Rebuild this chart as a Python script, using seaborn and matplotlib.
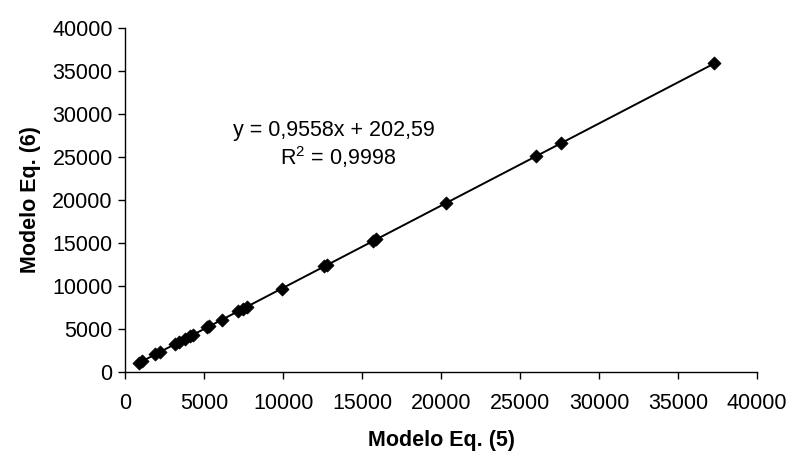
import matplotlib
matplotlib.use("Agg")
import matplotlib.pyplot as plt
import seaborn as sns
import pandas as pd

# Data
modelo_eq5 = [900, 1050, 1900, 2200, 3150, 3400, 3800, 4100, 4300, 5200, 5300, 6100,
              7150, 7450, 7700, 9900, 12600, 12800, 15700, 15900, 20300, 26000, 27600, 37300]
modelo_eq6 = [1063, 1206, 2019, 2306, 3214, 3453, 3835, 4122, 4313, 5173, 5269, 6033,
              7037, 7324, 7562, 9665, 12246, 12437, 15209, 15400, 19606, 25054, 26583, 35854]
x_ticks = [0, 5000, 10000, 15000, 20000, 25000, 30000, 35000, 40000]
y_ticks = [0, 5000, 10000, 15000, 20000, 25000, 30000, 35000, 40000]
eq_text = "y = 0,9558x + 202,59"
r2_text = "R$^2$ = 0,9998"

df = pd.DataFrame({"x": modelo_eq5, "y": modelo_eq6})

sns.set_theme(style="white")
plt.rcParams["font.family"] = ["Liberation Sans", "DejaVu Sans"]
plt.rcParams["text.color"] = "black"
plt.rcParams["axes.labelcolor"] = "black"
plt.rcParams["mathtext.fontset"] = "custom"
plt.rcParams["mathtext.rm"] = "Liberation Sans"

FS = 15.5

fig = plt.figure(figsize=(7.92, 4.54), dpi=100)
ax = fig.add_axes([0.158, 0.181, 0.798, 0.758])

sns.regplot(data=df, x="x", y="y", ax=ax, ci=None, truncate=True,
            marker="D", color="black",
            scatter_kws={"s": 45, "alpha": 1, "edgecolor": "black",
                         "linewidths": 0.5, "zorder": 3},
            line_kws={"color": "black", "linewidth": 1.4})

ax.set_xlim(0, 40000)
ax.set_ylim(0, 40000)
ax.set_xticks(x_ticks)
ax.set_yticks(y_ticks)
ax.set_xticklabels([str(t) for t in x_ticks], fontsize=FS)
ax.set_yticklabels([str(t) for t in y_ticks], fontsize=FS)
ax.tick_params(axis="both", direction="out", length=5, width=1, color="black",
               bottom=True, left=True, labelcolor="black")
ax.tick_params(axis="x", pad=10)
ax.tick_params(axis="y", pad=4)

for s in ["top", "right"]:
    ax.spines[s].set_visible(False)
for s in ["left", "bottom"]:
    ax.spines[s].set_color("black")
    ax.spines[s].set_linewidth(1)

ax.set_xlabel("Modelo Eq. (5)", fontsize=FS, fontweight="bold", labelpad=12)
ax.set_ylabel("Modelo Eq. (6)", fontsize=FS, fontweight="bold", labelpad=8)

ax.text(13200, 28100, eq_text, fontsize=FS, ha="center", va="center")
ax.text(13500, 24970, r2_text, fontsize=FS, ha="center", va="center")

fig.savefig("out.png", dpi=100)
